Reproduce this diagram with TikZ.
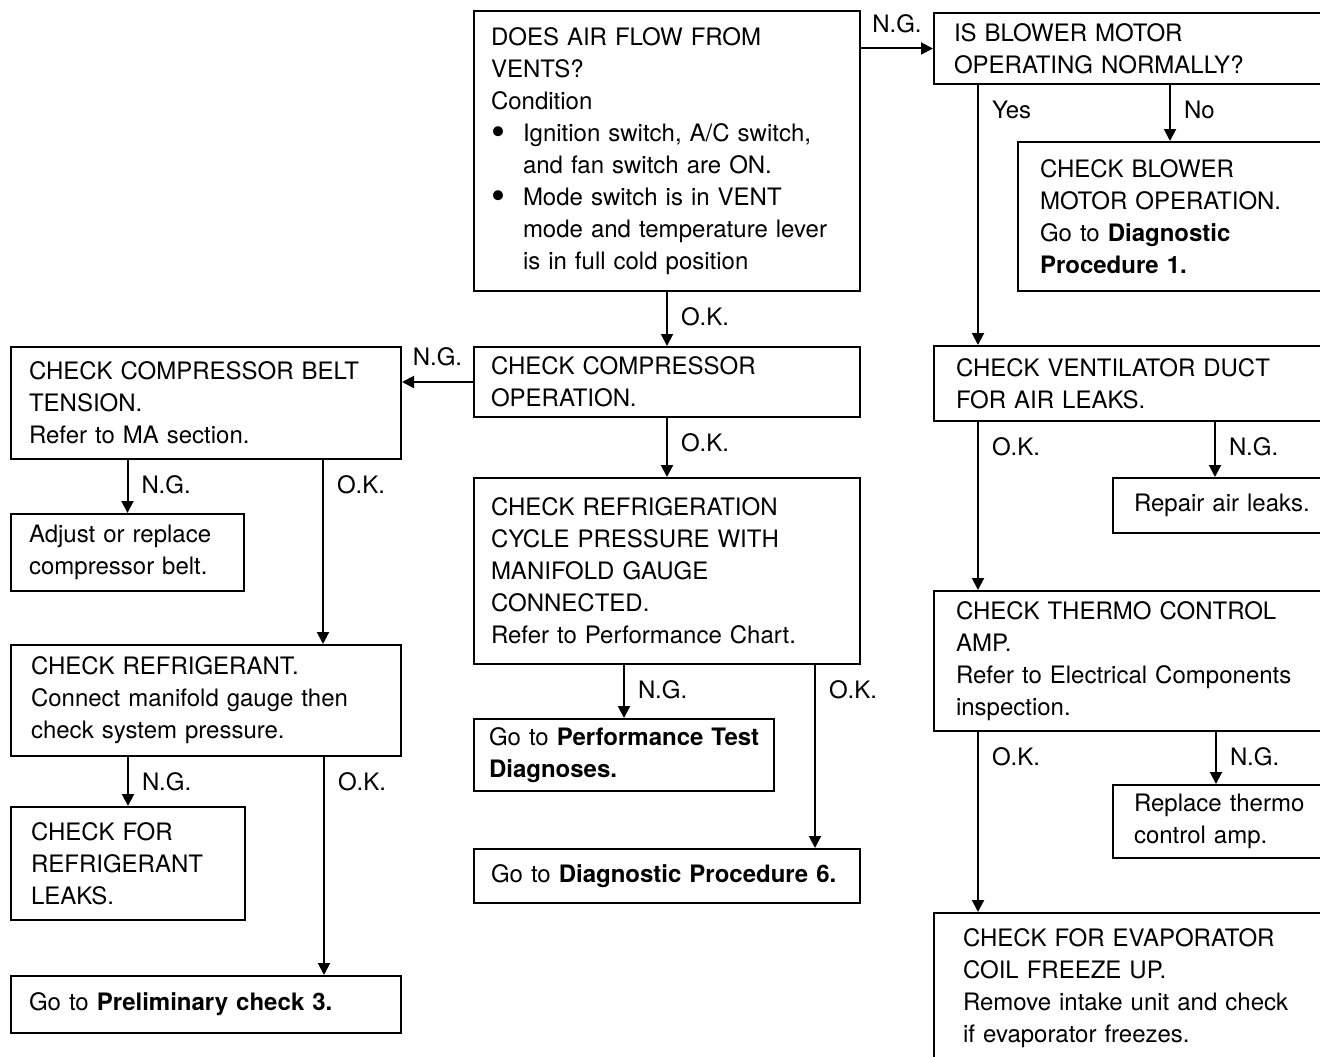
\documentclass[tikz,border=0pt]{standalone}
\usepackage{fontspec}
\setmainfont{TeX Gyre Heros}
\usetikzlibrary{arrows.meta}
\newcommand{\chartfont}{\fontsize{24}{32}\selectfont}
\newcommand{\blt}{\makebox[32pt][l]{\fontsize{40}{32}\selectfont\raisebox{-4pt}{•}}}
\newcommand{\ind}{\hspace*{32pt}}
\tikzset{
  box/.style={draw, line width=2pt, anchor=north west, align=left,
    inner ysep=0pt, font=\chartfont},
  arr/.style={-{Triangle[length=12pt,width=12pt]}, line width=2pt},
  lbl/.style={font=\chartfont, inner sep=0pt, anchor=north west,
    xshift=13pt, yshift=-15pt},
  hlbl/.style={font=\chartfont, inner sep=0pt, anchor=south, yshift=15pt}
}

\begin{document}
\begin{tikzpicture}[x=1pt,y=-1pt]
  \useasboundingbox (0,0) rectangle (1320,1057);
  \clip (0,0) rectangle (1320,1057);
  % middle column
  \node[box, text width=352pt, inner xsep=17pt, minimum height=280pt] (air) at (473,10)
    {DOES AIR FLOW FROM\\VENTS?\\Condition\\\blt Ignition switch, A/C switch,\\\ind and fan switch are ON.\\\blt Mode switch is in VENT\\\ind mode and temperature lever\\\ind is in full cold position};
  \node[box, text width=352pt, inner xsep=17pt, minimum height=70pt] (comp) at (473,346)
    {CHECK COMPRESSOR\\OPERATION.};
  \node[box, text width=352pt, inner xsep=17pt, minimum height=186pt] (cycle) at (473,477)
    {CHECK REFRIGERATION\\CYCLE PRESSURE WITH\\MANIFOLD GAUGE\\CONNECTED.\\Refer to Performance Chart.};
  \node[box, text width=270pt, inner xsep=15pt, minimum height=72pt] (perf) at (473,718)
    {Go to \textbf{Performance Test}\\\textbf{Diagnoses.}};
  \node[box, text width=352pt, inner xsep=17pt, minimum height=54pt] (diag) at (473,848)
    {Go to \textbf{Diagnostic Procedure 6.}};
  % left column
  \node[box, text width=354pt, inner xsep=18pt, minimum height=112pt] (belt) at (10,346)
    {CHECK COMPRESSOR BELT\\TENSION.\\Refer to MA section.};
  \node[box, text width=197pt, inner xsep=18pt, minimum height=77pt] (adjust) at (10,513)
    {Adjust or replace\\compressor belt.};
  \node[box, text width=350pt, inner xsep=20pt, minimum height=111pt] (refr) at (10,644)
    {CHECK REFRIGERANT.\\Connect manifold gauge then\\check system pressure.};
  \node[box, text width=194pt, inner xsep=20pt, minimum height=113pt] (leaks) at (10,806)
    {CHECK FOR\\REFRIGERANT\\LEAKS.};
  \node[box, text width=354pt, inner xsep=18pt, minimum height=57pt] (prelim) at (10,975)
    {Go to \textbf{Preliminary check 3.}};
  % right column
  \node[box, text width=387pt, inner xsep=20pt, minimum height=71pt] (blower) at (933,12)
    {IS BLOWER MOTOR\\OPERATING NORMALLY?};
  \node[box, text width=299pt, inner xsep=22pt, minimum height=149pt] (blowchk) at (1017,141)
    {CHECK BLOWER\\MOTOR OPERATION.\\Go to \textbf{Diagnostic}\\\textbf{Procedure 1.}};
  \node[box, text width=383pt, inner xsep=22pt, minimum height=75pt] (duct) at (933,345)
    {CHECK VENTILATOR DUCT\\FOR AIR LEAKS.};
  \node[box, text width=206pt, inner xsep=21pt, minimum height=55pt] (repair) at (1112,477)
    {Repair air leaks.};
  \node[box, text width=383pt, inner xsep=22pt, minimum height=140pt] (thermo) at (933,590)
    {CHECK THERMO CONTROL\\AMP.\\Refer to Electrical Components\\inspection.};
  \node[box, text width=206pt, inner xsep=21pt, minimum height=73pt] (replace) at (1112,784)
    {Replace thermo\\control amp.};
  \node[box, text width=369pt, inner xsep=29pt, minimum height=150pt] (evap) at (933,912)
    {CHECK FOR EVAPORATOR\\COIL FREEZE UP.\\Remove intake unit and check\\if evaporator freezes.};

  % connectors
  \draw[arr] (air.east |- blower.west) -- (blower.west) node[hlbl, midway] {N.G.};
  \draw[arr] (air.south) -- (comp.north) node[lbl, at start] {O.K.};
  \draw[arr] (comp.west) -- (comp.west -| belt.east) node[hlbl, midway] {N.G.};
  \draw[arr] (comp.south) -- (cycle.north) node[lbl, at start] {O.K.};
  \draw[arr] (cycle.south -| perf.north) -- (perf.north) node[lbl, at start] {N.G.};
  \draw[arr] (cycle.south -| 815,0) -- (diag.north -| 815,0) node[lbl, at start] {O.K.};
  \draw[arr] (belt.south -| adjust.north) -- (adjust.north) node[lbl, at start] {N.G.};
  \draw[arr] (belt.south -| 323,0) -- (refr.north -| 323,0) node[lbl, at start] {O.K.};
  \draw[arr] (refr.south -| leaks.north) -- (leaks.north) node[lbl, at start] {N.G.};
  \draw[arr] (refr.south -| 324,0) -- (prelim.north -| 324,0) node[lbl, at start] {O.K.};
  \draw[arr] (blower.south -| 978,0) -- (duct.north -| 978,0) node[lbl, at start] {Yes};
  \draw[arr] (blower.south -| 1170,0) -- (blowchk.north -| 1170,0) node[lbl, at start] {No};
  \draw[arr] (duct.south -| 978,0) -- (thermo.north -| 978,0) node[lbl, at start] {O.K.};
  \draw[arr] (duct.south -| 1215,0) -- (repair.north -| 1215,0) node[lbl, at start] {N.G.};
  \draw[arr] (thermo.south -| 978,0) -- (evap.north -| 978,0) node[lbl, at start] {O.K.};
  \draw[arr] (thermo.south -| 1216,0) -- (replace.north -| 1216,0) node[lbl, at start] {N.G.};
\end{tikzpicture}
\end{document}
